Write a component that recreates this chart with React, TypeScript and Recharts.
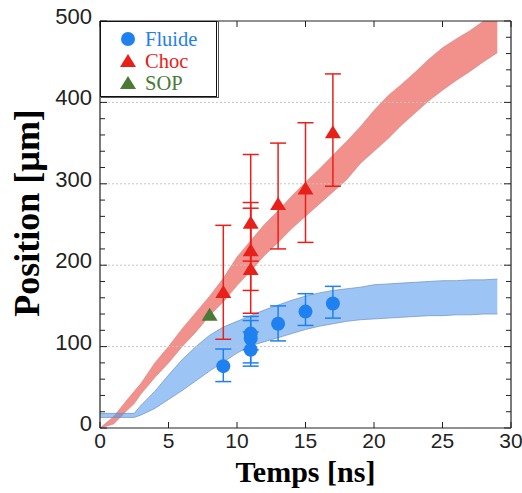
import { ComposedChart, Area, Scatter, ErrorBar, XAxis, YAxis, ReferenceLine, Label } from 'recharts';

// simulation bands (time in ns, position in µm)
const bandTimes = [0, 1, 2, 2.5, 3, 4, 5, 6, 7, 8, 9, 10, 11, 12, 13, 14, 15, 16, 17, 18, 19, 20, 21, 22, 23, 24, 25, 26, 27, 28, 29];
const chocLow = [0, 5, 22, 30, 42, 62, 80, 100, 118, 138, 155, 175, 193, 212, 228, 245, 260, 275, 290, 305, 325, 340, 355, 372, 387, 402, 415, 427, 438, 450, 461];
const chocHigh = [0, 14, 35, 45, 55, 80, 100, 122, 142, 162, 184, 210, 230, 250, 267, 285, 302, 318, 335, 352, 370, 390, 408, 422, 437, 453, 467, 478, 488, 500, 512];
const fluideLow = [13, 13, 13, 13, 16, 24, 35, 46, 58, 70, 81, 92, 101, 106, 111, 116, 121, 125, 128, 131, 133, 134, 135, 136, 137, 138, 138, 139, 139, 140, 140];
const fluideHigh = [18, 18, 18, 18, 28, 45, 65, 84, 100, 114, 124, 131, 138, 145, 151, 157, 162, 166, 169, 171, 173, 176, 177, 178, 179, 180, 181, 181, 182, 182, 183];

// measurements
const fluideT = [9, 11, 11, 11, 13, 15, 17];
const fluideY = [76, 96, 110, 116, 128, 143, 153];
const fluideMin = [57, 76, 80, 96, 107, 126, 135];
const fluideMax = [97, 118, 132, 137, 150, 165, 174];

const chocT = [9, 11, 11, 11, 13, 15, 17];
const chocY = [166, 194, 217, 251, 274, 293, 362];
const chocMin = [109, 141, 169, 205, 220, 228, 297];
const chocMax = [249, 270, 277, 336, 350, 375, 435];

const sopT = [8];
const sopY = [138];

const xTicks = [0, 5, 10, 15, 20, 25, 30];
const yTicks = [0, 20, 40, 60, 80, 100, 120, 140, 160, 180, 200, 220, 240, 260, 280, 300, 320, 340, 360, 380, 400, 420, 440, 460, 480, 500];
const gridValues = [100, 200, 300, 400];

const legendItems = [
  { name: 'Fluide', color: '#1f80f0', shape: 'circle' },
  { name: 'Choc', color: '#e8201a', shape: 'triangle' },
  { name: 'SOP', color: '#4a7a35', shape: 'triangle' },
];

const BLUE = '#1f80f0';
const RED = '#e8201a';
const GREEN = '#4a7a35';
const AXIS = '#222';
const SANS = '"Liberation Sans", Arial, sans-serif';
const SERIF = '"Liberation Serif", "Times New Roman", serif';

const bands = bandTimes.map((t, i) => ({
  t,
  choc: [chocLow[i], chocHigh[i]],
  fluide: [fluideLow[i], fluideHigh[i]],
}));

const points = (ts: number[], ys: number[], mins?: number[], maxs?: number[]) =>
  ts.map((t, i) => ({
    t,
    v: ys[i],
    err: mins && maxs ? [ys[i] - mins[i], maxs[i] - ys[i]] : [0, 0],
  }));

const fluideData = points(fluideT, fluideY, fluideMin, fluideMax);
const chocData = points(chocT, chocY, chocMin, chocMax);
const sopData = points(sopT, sopY);

const Dot = (color: string) => (p: any) => <circle cx={p.cx} cy={p.cy} r={7} fill={color} />;
const Tri = (color: string) => (p: any) => (
  <polygon points={`${p.cx},${p.cy - 8} ${p.cx - 8},${p.cy + 5} ${p.cx + 8},${p.cy + 5}`} fill={color} />
);

const BottomTick = (p: any) => (
  <g>
    <line x1={p.x} x2={p.x} y1={p.y - 6} y2={p.y - 12} stroke={AXIS} />
    <text x={p.x} y={p.y + 14} textAnchor="middle" fontFamily={SANS} fontSize={21} fill={AXIS}>
      {p.payload.value}
    </text>
  </g>
);

const TopTick = (p: any) => <line x1={p.x} x2={p.x} y1={p.y} y2={p.y + 6} stroke={AXIS} />;

const LeftTick = (p: any) => {
  const major = p.payload.value % 100 === 0;
  return (
    <g>
      <line x1={p.x + 8} x2={p.x + 8 + (major ? 7 : 5)} y1={p.y} y2={p.y} stroke={AXIS} />
      {major && (
        <text x={p.x} y={p.y + 3} textAnchor="end" fontFamily={SANS} fontSize={22} fill={AXIS}>
          {p.payload.value}
        </text>
      )}
    </g>
  );
};

const RightTick = (p: any) => {
  const major = p.payload.value % 100 === 0;
  return <line x1={p.x} x2={p.x - (major ? 7 : 5)} y1={p.y} y2={p.y} stroke={AXIS} />;
};

function ChartLegend() {
  return (
    <svg width={122} height={82} style={{ position: 'absolute', left: 100, top: 21 }}>
      <rect x={1.5} y={0.5} width={117} height={76} fill="none" stroke="#555" />
      <rect x={0.5} y={0.5} width={116} height={75} fill="#fff" stroke="#111" />
      {legendItems.map((it, i) => {
        const cy = 18 + i * 22;
        return (
          <g key={it.name}>
            {it.shape === 'circle' ? (
              <circle cx={28} cy={cy} r={7} fill={it.color} />
            ) : (
              <polygon points={`28,${cy - 7} 20,${cy + 6} 36,${cy + 6}`} fill={it.color} />
            )}
            <text x={45} y={cy + 7} fontFamily={SERIF} fontSize={20.5} fill={it.color}>
              {it.name}
            </text>
          </g>
        );
      })}
    </svg>
  );
}

export default function App() {
  return (
    <div style={{ position: 'absolute', left: 0, top: 0, width: 522, height: 493, background: '#fff' }}>
      <ComposedChart width={522} height={493} data={bands} margin={{ top: 20, right: 10, bottom: 0, left: 0 }}>
        <XAxis
          dataKey="t"
          type="number"
          domain={[0, 30]}
          ticks={xTicks}
          allowDataOverflow
          height={65}
          tickSize={0}
          tickMargin={6}
          tickLine={false}
          tick={BottomTick}
          axisLine={{ stroke: AXIS, strokeWidth: 1.2 }}
        >
          <Label
            content={(props: any) => (
              <text
                x={props.viewBox.x + props.viewBox.width / 2}
                y={482}
                textAnchor="middle"
                fontFamily={SERIF}
                fontWeight="bold"
                fontSize={30}
                fill="#000"
              >
                Temps [ns]
              </text>
            )}
          />
        </XAxis>
        <XAxis
          xAxisId="top"
          orientation="top"
          type="number"
          domain={[0, 30]}
          ticks={xTicks}
          allowDataOverflow
          height={1}
          tickSize={0}
          tickMargin={0}
          tickLine={false}
          tick={TopTick}
          axisLine={{ stroke: AXIS, strokeWidth: 1.2 }}
        />
        <YAxis
          type="number"
          domain={[0, 500]}
          ticks={yTicks}
          interval={0}
          allowDataOverflow
          width={100}
          tickSize={0}
          tickMargin={8}
          tickLine={false}
          tick={LeftTick}
          axisLine={{ stroke: AXIS, strokeWidth: 1.2 }}
        >
          <Label
            content={() => (
              <text
                x={39}
                y={213}
                transform="rotate(-90 39 213)"
                textAnchor="middle"
                fontFamily={SERIF}
                fontWeight="bold"
                fontSize={36}
                fill="#000"
              >
                Position [µm]
              </text>
            )}
          />
        </YAxis>
        <YAxis
          yAxisId="right"
          orientation="right"
          type="number"
          domain={[0, 500]}
          ticks={yTicks}
          interval={0}
          allowDataOverflow
          width={1}
          tickSize={0}
          tickMargin={0}
          tickLine={false}
          tick={RightTick}
          axisLine={{ stroke: AXIS, strokeWidth: 1.2 }}
        />
        {gridValues.map((v) => (
          <ReferenceLine key={v} y={v} stroke="#c4c4c4" strokeDasharray="2 2" />
        ))}
        <Area
          type="linear"
          dataKey="choc"
          stroke="#c98480"
          strokeWidth={0.6}
          fill="#e8352c"
          fillOpacity={0.55}
          dot={false}
          activeDot={false}
          isAnimationActive={false}
        />
        <Scatter data={chocData} dataKey="v" shape={Tri(RED)} isAnimationActive={false}>
          <ErrorBar dataKey="err" direction="y" width={8} stroke={RED} strokeWidth={1.5} />
        </Scatter>
        <Scatter data={sopData} dataKey="v" shape={Tri(GREEN)} isAnimationActive={false} />
        <Area
          type="linear"
          dataKey="fluide"
          stroke="#6f8fbd"
          strokeWidth={0.7}
          fill="#4b95ee"
          fillOpacity={0.55}
          dot={false}
          activeDot={false}
          isAnimationActive={false}
        />
        <Scatter data={fluideData} dataKey="v" shape={Dot(BLUE)} isAnimationActive={false}>
          <ErrorBar dataKey="err" direction="y" width={8} stroke={BLUE} strokeWidth={1.5} />
        </Scatter>
      </ComposedChart>
      <ChartLegend />
    </div>
  );
}
